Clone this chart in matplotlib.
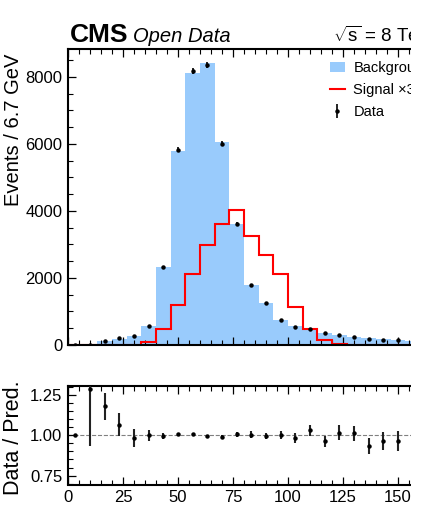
import numpy as np
import matplotlib
matplotlib.use("Agg")
import matplotlib.pyplot as plt
from matplotlib.patches import Rectangle
from matplotlib.ticker import MultipleLocator

plt.rcParams['font.family'] = ['Liberation Sans', 'DejaVu Sans']
plt.rcParams['mathtext.fontset'] = 'custom'
plt.rcParams['mathtext.rm'] = 'Liberation Sans'

# ---- data ----
bin_width = 20.0 / 3.0
n_bins = 25
background = [2, 7, 112, 185, 262, 560, 2330, 5790, 8120, 8400, 6070, 3600, 1780,
              1250, 760, 560, 465, 365, 300, 250, 205, 170, 140, 115, 100]
signal_x3 = [0, 0, 0, 0, 0, 100, 467, 1200, 2130, 2990, 3616, 4024, 3240,
             2692, 2125, 1142, 467, 149, 20, 0, 0, 0, 0, 0, 0]
data = [2, 9, 132, 197, 257, 560, 2316, 5825, 8169, 8350, 6009, 3622, 1787,
        1245, 760, 550, 479, 351, 305, 253, 191, 164, 135, 115, 100]
ratio_err = [0, 0.35, 0.085, 0.07, 0.055, 0.035, 0.018, 0.01, 0.008, 0.008, 0.01,
             0.015, 0.02, 0.02, 0.025, 0.03, 0.035, 0.035, 0.045, 0.045, 0.05,
             0.055, 0.06, 0.065, 0.07]
labels = ["Background", "Signal \u00d730", "Data"]

edges = np.arange(n_bins + 1) * bin_width
centers = 0.5 * (edges[:-1] + edges[1:])
bkg = np.array(background, float)
dat = np.array(data, float)
ratio = dat / bkg
ratio[0] = 1.0

W, H = 424, 513
fig = plt.figure(figsize=(W / 100, H / 100), dpi=100)

xmax = edges[-1]
left = 68 / W
width = (2.2 * xmax) / W
ax = fig.add_axes([left, 1 - 345 / H, width, (345 - 49) / H])
rax = fig.add_axes([left, 1 - 484.5 / H, width, (484.5 - 386) / H])

blue = '#99cbfc'
ax.stairs(bkg, edges, fill=True, color=blue, label=labels[0], zorder=1)
ax.stairs(signal_x3, edges, color='red', lw=1.5, label=labels[1], zorder=2)
ax.errorbar(centers, dat, yerr=np.sqrt(dat), fmt='o', color='black', ms=2.2,
            elinewidth=1.2, capsize=0, label=labels[2], zorder=3)
ax.set_xlim(0, xmax)
ax.set_ylim(0, 8830)
ax.yaxis.set_major_locator(MultipleLocator(2000))
ax.yaxis.set_minor_locator(MultipleLocator(500))

rax.errorbar(centers, ratio, yerr=ratio_err, fmt='o', color='black', ms=2.2,
             elinewidth=1.5, ecolor='#222222', capsize=0, zorder=3)
rax.axhline(1.0, color='gray', ls='--', lw=0.8, zorder=1)
rax.set_xlim(0, xmax)
rax.set_ylim(0.695, 1.305)
rax.yaxis.set_major_locator(MultipleLocator(0.25))
rax.yaxis.set_minor_locator(MultipleLocator(0.05))
rax.yaxis.set_major_formatter(matplotlib.ticker.FormatStrFormatter('%.2f'))

for a in (ax, rax):
    a.xaxis.set_major_locator(MultipleLocator(25))
    a.xaxis.set_minor_locator(MultipleLocator(5))
    a.tick_params(which='both', direction='in', top=True, right=True, labelsize=12)
    a.tick_params(which='major', length=6, width=0.9, pad=4)
    a.tick_params(which='minor', length=3.5, width=0.8)
    for s in a.spines.values():
        s.set_linewidth(1.5)
ax.tick_params(labelbottom=False)

leg = ax.legend(loc='upper left', bbox_to_anchor=(330 / W, 1 - 61 / H),
                bbox_transform=fig.transFigure, frameon=False, fontsize=10.5,
                handlelength=1.0, handletextpad=0.6, labelspacing=0.55,
                borderpad=0, borderaxespad=0)

fig.text(70 / W, 1 - 42 / H, "CMS", fontsize=19, fontweight='bold', va='baseline')
fig.text(133 / W, 1 - 42 / H, "Open Data", fontsize=14.5, style='italic', va='baseline')
fig.text(333 / W, 1 - 42 / H, r"$\sqrt{\mathrm{s}}$ = 8 TeV", fontsize=13.5, va='baseline')

fig.text(14 / W, 1 - 54 / H, "Events / 6.7 GeV", rotation=90, fontsize=14.5,
         ha='center', va='top')
fig.text(14 / W, 1 - 438 / H, "Data / Pred.", rotation=90, fontsize=15.5,
         ha='center', va='center')

# the reference is cropped on the right
fig.patches.append(Rectangle((411 / W, 0), 1, 1, transform=fig.transFigure,
                             facecolor='white', edgecolor='none', zorder=100))

fig.savefig("out.png", dpi=100)
